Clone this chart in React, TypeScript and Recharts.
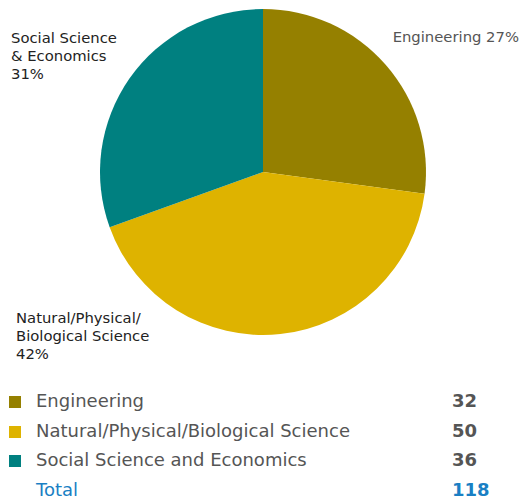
import React from 'react';
import { PieChart, Pie, Cell } from 'recharts';

const categories = ['Engineering', 'Natural/Physical/Biological Science', 'Social Science and Economics'];
const counts = [32, 50, 36];
const colors = ['#958000', '#deb300', '#008080'];
// etiquetas de las porciones tal como aparecen en el gráfico
const sliceLabels = [['Engineering 27%'], ['Natural/Physical/', 'Biological Science', '42%'], ['Social Science', '& Economics', '31%']];

const total = counts.reduce((s, v) => s + v, 0);
const pieData = categories.map((name, i) => ({ name, value: counts[i] }));

const FONT = '"DejaVu Sans", Verdana, sans-serif';

const renderLabel = (props: any) => {
  const { cx, cy, index } = props;
  const lines = sliceLabels[index];
  let x = cx;
  let y = cy;
  let anchor: 'start' | 'end' = 'start';
  let fill = '#222';
  if (index === 0) {
    x = cx + 256;
    y = cy - 130;
    anchor = 'end';
    fill = '#555';
  } else if (index === 1) {
    x = cx - 247;
    y = cy + 151;
  } else {
    x = cx - 252;
    y = cy - 129;
  }
  return (
    <text x={x} y={y} textAnchor={anchor} fill={fill} fontSize={14.8} fontFamily={FONT}>
      {lines.map((l, k) => (
        <tspan key={k} x={x} dy={k === 0 ? 0 : 18}>{l}</tspan>
      ))}
    </text>
  );
};

export default function App() {
  return (
    <div style={{ position: 'absolute', left: 0, top: 0, width: 522, height: 500, background: '#fff', fontFamily: FONT }}>
      <PieChart width={522} height={370} margin={{ top: 0, right: 0, bottom: 0, left: 0 }}>
        <Pie
          data={pieData}
          dataKey="value"
          cx={263}
          cy={172}
          outerRadius={163}
          startAngle={90}
          endAngle={-270}
          stroke="none"
          label={renderLabel}
          labelLine={false}
          isAnimationActive={false}
        >
          {pieData.map((d, i) => (
            <Cell key={d.name} fill={colors[i]} />
          ))}
        </Pie>
      </PieChart>
      <div style={{ position: 'absolute', left: 0, top: 387 }}>
        {categories.map((name, i) => (
          <div key={name} style={{ position: 'relative', height: 29.5, width: 522 }}>
            <span style={{ position: 'absolute', left: 9, top: 9, width: 12, height: 12, background: colors[i] }} />
            <span style={{ position: 'absolute', left: 36, top: 3, fontSize: 18, color: '#555' }}>{name}</span>
            <span style={{ position: 'absolute', left: 452, top: 3, fontSize: 18, color: '#555', fontWeight: 'bold' }}>{counts[i]}</span>
          </div>
        ))}
        <div style={{ position: 'relative', height: 29.5, width: 522 }}>
          <span style={{ position: 'absolute', left: 36, top: 3, fontSize: 18, color: '#1a7fc4' }}>Total</span>
          <span style={{ position: 'absolute', left: 452, top: 3, fontSize: 18, color: '#1a7fc4', fontWeight: 'bold' }}>{total}</span>
        </div>
      </div>
    </div>
  );
}
